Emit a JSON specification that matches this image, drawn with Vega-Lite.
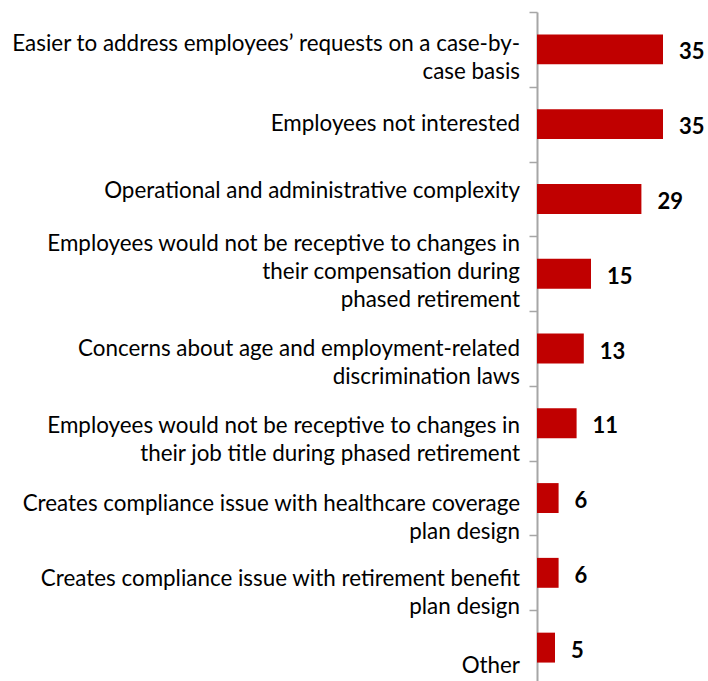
{
  "$schema": "https://vega.github.io/schema/vega-lite/v6.json",
  "width": 171,
  "height": 673,
  "autosize": {"type": "none"},
  "padding": {"left": 537, "top": 12, "right": 0, "bottom": 0},
  "background": "white",
  "config": {"view": {"stroke": null}, "font": "Lato"},
  "data": {
    "values": [
      {"reason": "Easier to address employees’ requests on a case-by-|case basis", "pct": 35},
      {"reason": "Employees not interested", "pct": 35},
      {"reason": "Operational and administrative complexity", "pct": 29},
      {"reason": "Employees would not be receptive to changes in|their compensation during|phased retirement", "pct": 15},
      {"reason": "Concerns about age and employment-related|discrimination laws", "pct": 13},
      {"reason": "Employees would not be receptive to changes in|their job title during phased retirement", "pct": 11},
      {"reason": "Creates compliance issue with healthcare coverage|plan design", "pct": 6},
      {"reason": "Creates compliance issue with retirement benefit|plan design", "pct": 6},
      {"reason": "Other", "pct": 5}
    ]
  },
  "encoding": {
    "y": {
      "field": "reason",
      "type": "nominal",
      "sort": null,
      "title": null,
      "scale": {"paddingInner": 0, "paddingOuter": 0},
      "axis": {
        "domainColor": "#A6A6A6",
        "domainWidth": 2,
        "tickColor": "#A6A6A6",
        "tickWidth": 1.5,
        "tickSize": 8,
        "tickBand": "extent",
        "labels": false
      }
    },
    "x": {"field": "pct", "type": "quantitative", "scale": {"domain": [0, 47.5]}, "axis": null}
  },
  "layer": [
    {
      "mark": {"type": "bar", "color": "#C00000", "height": {"band": 0.4}}
    },
    {
      "mark": {"type": "text", "align": "left", "baseline": "middle", "dx": 16, "dy": 3, "fontWeight": "bold", "fontSize": 22, "font": "Lato", "color": "#000000"},
      "encoding": {
        "text": {"field": "pct", "type": "quantitative"}
      }
    },
    {
      "transform": [{"filter": {"field": "reason", "oneOf": ["Easier to address employees’ requests on a case-by-|case basis"]}}],
      "mark": {"type": "text", "align": "right", "baseline": "alphabetic", "dx": -17, "dy": 2, "fontSize": 22.4, "font": "Lato", "color": "#000000", "lineBreak": "|", "lineHeight": 28},
      "encoding": {"x": {"datum": 0}, "text": {"field": "reason"}}
    },
    {
      "transform": [{"filter": {"field": "reason", "oneOf": ["Operational and administrative complexity"]}}],
      "mark": {"type": "text", "align": "right", "baseline": "alphabetic", "dx": -17, "dy": -1, "fontSize": 22.4, "font": "Lato", "color": "#000000", "lineBreak": "|", "lineHeight": 28},
      "encoding": {"x": {"datum": 0}, "text": {"field": "reason"}}
    },
    {
      "transform": [{"filter": {"field": "reason", "oneOf": ["Employees not interested", "Concerns about age and employment-related|discrimination laws"]}}],
      "mark": {"type": "text", "align": "right", "baseline": "alphabetic", "dx": -17, "dy": 7, "fontSize": 22.4, "font": "Lato", "color": "#000000", "lineBreak": "|", "lineHeight": 28},
      "encoding": {"x": {"datum": 0}, "text": {"field": "reason"}}
    },
    {
      "transform": [{"filter": {"field": "reason", "oneOf": ["Employees would not be receptive to changes in|their job title during phased retirement"]}}],
      "mark": {"type": "text", "align": "right", "baseline": "alphabetic", "dx": -17, "dy": 9.5, "fontSize": 22.4, "font": "Lato", "color": "#000000", "lineBreak": "|", "lineHeight": 28},
      "encoding": {"x": {"datum": 0}, "text": {"field": "reason"}}
    },
    {
      "transform": [{"filter": {"field": "reason", "oneOf": ["Creates compliance issue with healthcare coverage|plan design", "Creates compliance issue with retirement benefit|plan design"]}}],
      "mark": {"type": "text", "align": "right", "baseline": "alphabetic", "dx": -17, "dy": 13, "fontSize": 22.4, "font": "Lato", "color": "#000000", "lineBreak": "|", "lineHeight": 28},
      "encoding": {"x": {"datum": 0}, "text": {"field": "reason"}}
    },
    {
      "transform": [{"filter": {"field": "reason", "oneOf": ["Employees would not be receptive to changes in|their compensation during|phased retirement"]}}],
      "mark": {"type": "text", "align": "right", "baseline": "alphabetic", "dx": -17, "dy": -23, "fontSize": 22.4, "font": "Lato", "color": "#000000", "lineBreak": "|", "lineHeight": 28},
      "encoding": {"x": {"datum": 0}, "text": {"field": "reason"}}
    },
    {
      "transform": [{"filter": {"field": "reason", "oneOf": ["Other"]}}],
      "mark": {"type": "text", "align": "right", "baseline": "alphabetic", "dx": -17, "dy": 25, "fontSize": 22.4, "font": "Lato", "color": "#000000", "lineBreak": "|", "lineHeight": 28},
      "encoding": {"x": {"datum": 0}, "text": {"field": "reason"}}
    }
  ]
}
